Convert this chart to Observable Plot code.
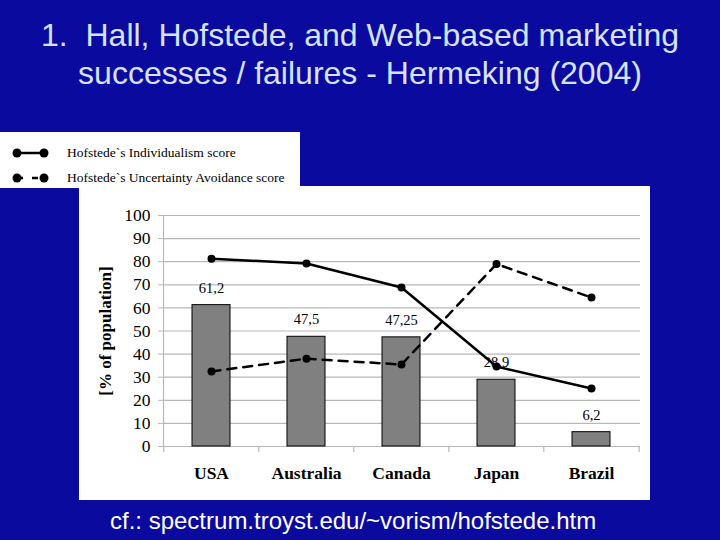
<!DOCTYPE html>
<html>
<head>
<meta charset="utf-8">
<script src="https://cdn.jsdelivr.net/npm/d3@7"></script>
<script src="https://cdn.jsdelivr.net/npm/@observablehq/plot@0.6"></script>
<style>
  html, body { margin: 0; padding: 0; }
  body { width: 720px; height: 540px; background: #0a0a9e; position: relative; overflow: hidden; font-family: "Liberation Sans", Arial, sans-serif; }
  #title { position: absolute; left: 0; top: 16px; width: 720px; text-align: center; color: #d6e2ff; font-size: 32px; line-height: 38px; white-space: nowrap; }
  #legend { position: absolute; left: 0; top: 132px; width: 300px; height: 56px; background: #fff; z-index: 2; }
  #legend .item { position: absolute; left: 12px; display: flex; align-items: center; font-family: "Liberation Serif", "Times New Roman", serif; font-size: 13.5px; color: #000; }
  #legend svg { margin-right: 17px; }
  #chart { position: absolute; left: 79px; top: 186px; width: 571px; height: 314px; background: #fff; }
  #caption { position: absolute; left: 110px; top: 507px; color: #fff; font-size: 24px; line-height: 28px; white-space: nowrap; }
</style>
</head>
<body>
<div id="title">1.&nbsp; Hall, Hofstede, and Web-based marketing<br>successes / failures - Hermeking (2004)</div>
<div id="legend"></div>
<div id="chart"></div>
<div id="caption">cf.: spectrum.troyst.edu/~vorism/hofstede.htm</div>
<script>
const countries = ["USA", "Australia", "Canada", "Japan", "Brazil"];
const webShare = [61.2, 47.5, 47.25, 28.9, 6.2];
const webLabels = ["61,2", "47,5", "47,25", "28,9", "6,2"];
const individualism = [81.3, 79.2, 68.8, 34.6, 25.1];
const uncertaintyAvoidance = [32.5, 38, 35.5, 79, 64.5];
const yTicks = [0, 10, 20, 30, 40, 50, 60, 70, 80, 90, 100];
const seriesNames = ["Hofstede`s Individualism score", "Hofstede`s Uncertainty Avoidance score"];

const bars = countries.map((c, i) => ({country: c, value: webShare[i], label: webLabels[i]}));
const indiv = countries.map((c, i) => ({country: c, value: individualism[i]}));
const ua = countries.map((c, i) => ({country: c, value: uncertaintyAvoidance[i]}));

const serif = "'Liberation Serif', 'Times New Roman', serif";
const gridColor = "#b8b8b8";

const plot = Plot.plot({
  width: 571,
  height: 314,
  marginLeft: 84,
  marginRight: 10,
  marginTop: 29,
  marginBottom: 54,
  style: {background: "transparent", fontFamily: serif, color: "#000"},
  x: {domain: countries, paddingInner: 0.6, paddingOuter: 0.3, label: null},
  y: {domain: [0, 100], label: null},
  marks: [
    Plot.gridY(yTicks, {stroke: gridColor, strokeOpacity: 1, strokeWidth: 1.2}),
    Plot.frame({anchor: "left", stroke: gridColor, strokeWidth: 1.2}),
    Plot.ruleY([0], {stroke: gridColor, strokeWidth: 1.2}),
    Plot.axisY(yTicks, {tickSize: 5, tickPadding: 8, fontSize: 17.5, stroke: gridColor, fill: "#000", label: null}),
    Plot.axisX({tickSize: 0, tickPadding: 20, fontSize: 17.5, fontWeight: "bold", fill: "#000", label: null}),
    Plot.ruleX(countries, {x: d => d, y1: 0, y2: -2.6, dx: -47.7, stroke: gridColor, strokeWidth: 1.2}),
    Plot.ruleX(countries.slice(-1), {x: d => d, y1: 0, y2: -2.6, dx: 47.7, stroke: gridColor, strokeWidth: 1.2}),
    Plot.text(["[% of population]"], {frameAnchor: "left", dx: -58, rotate: -90, textAnchor: "middle", fontSize: 17, fontWeight: "bold", fill: "#000"}),
    Plot.barY(bars, {x: "country", y: "value", fill: "#808080", stroke: "#000", strokeWidth: 1}),
    Plot.text(bars, {x: "country", y: "value", text: "label", dy: -17, fontSize: 14.5, fill: "#000"}),
    Plot.line(indiv, {x: "country", y: "value", stroke: "#000", strokeWidth: 2.5}),
    Plot.dot(indiv, {x: "country", y: "value", r: 4, fill: "#000"}),
    Plot.line(ua, {x: "country", y: "value", stroke: "#000", strokeWidth: 2.5, strokeDasharray: "9,7"}),
    Plot.dot(ua, {x: "country", y: "value", r: 4, fill: "#000"})
  ]
});
document.getElementById("chart").appendChild(plot);

// legend
const legend = d3.select("#legend");
seriesNames.forEach((name, i) => {
  const item = legend.append("div").attr("class", "item").style("top", (i === 0 ? 13 : 38) + "px");
  const svg = item.append("svg").attr("width", 38).attr("height", 12);
  svg.append("line").attr("x1", 5).attr("x2", 32).attr("y1", 6).attr("y2", 6)
    .attr("stroke", "#000").attr("stroke-width", 2.5)
    .attr("stroke-dasharray", i === 0 ? null : "6,9");
  svg.append("circle").attr("cx", 5).attr("cy", 6).attr("r", 4.5).attr("fill", "#000");
  svg.append("circle").attr("cx", 32).attr("cy", 6).attr("r", 4.5).attr("fill", "#000");
  item.append("span").text(name);
});
</script>
</body>
</html>
